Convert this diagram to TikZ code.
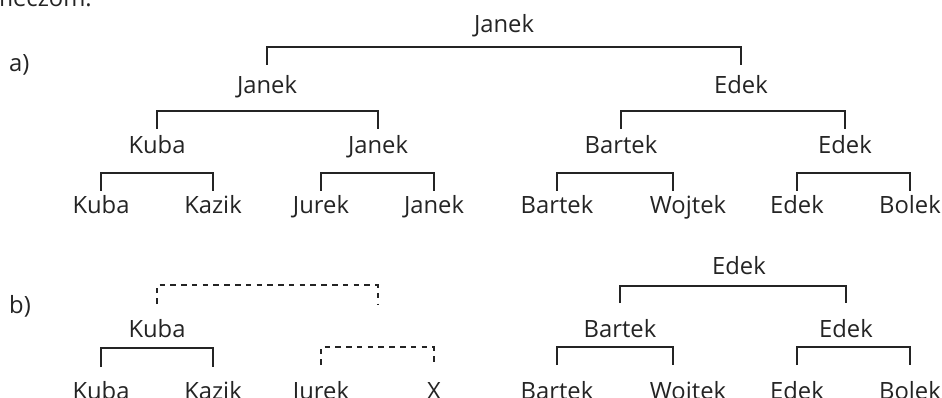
\documentclass[tikz,border=0pt]{standalone}
\usepackage{fontspec}
\setmainfont{Open Sans}
\usetikzlibrary{positioning}
\definecolor{ink}{gray}{0.14}
\tikzset{%
  player/.style={anchor=base, inner sep=0pt, text=ink,
    font=\fontsize{20.3}{24}\selectfont},% name of a player
  part/.style={player, anchor=base west},% part label a) / b)
  game/.style={draw=ink, line width=0.9pt},% match already played
  open/.style={game, dash pattern=on 4.7pt off 4.5pt}% match still to play
}
% bracket over two players #2 and #3: top line at #4, feet at #5
\newcommand*{\bracket}[5][game]{%
  \draw[#1] (#2 |- 0,#5) -- (#2 |- 0,#4) -| (#3 |- 0,#5);}

\begin{document}
\begin{tikzpicture}[x=0.03cm, y=-0.03cm]
  \useasboundingbox (0,0) rectangle (942,398);
  \node[part, anchor=base east] (intro) at (92,7) {meczom.};
  % a) the whole tournament
  \node[part] (pa) at (9,72) {a)};
  \foreach \x/\who in {101/Kuba, 213/Kazik, 321/Jurek, 434/Janek,
      557/Bartek, 688/Wojtek, 797/Edek, 910/Bolek}
    \node[player] (a\who) at (\x,214) {\who};
  \coordinate (aWojtekF) at (673,214);
  \node[player] (aKubaII) at (157,154) {Kuba};
  \node[player] (aJanekII) at (378,154) {Janek};
  \node[player] (aBartekII) at (621,154) {Bartek};
  \node[player] (aEdekII) at (845,154) {Edek};
  \node[player] (aJanekIII) at (267,94) {Janek};
  \node[player] (aEdekIII) at (741,94) {Edek};
  \node[player] (aJanekIV) at (504,33) {Janek};
  \bracket{aKuba}{aKazik}{173}{191}
  \bracket{aJurek}{aJanek}{173}{191}
  \bracket{aBartek}{aWojtekF}{173}{191}
  \bracket{aEdek}{aBolek}{173}{191}
  \bracket{aKubaII}{aJanekII}{111}{129}
  \bracket{aBartekII}{aEdekII}{111}{129}
  \bracket{aJanekIII}{aEdekIII}{47}{65}
  % b) the same with one result missing
  \node[part] (pb) at (9,313) {b)};
  \foreach \x/\who in {101/Kuba, 213/Kazik, 321/Jurek, 434/X,
      557/Bartek, 688/Wojtek, 797/Edek, 910/Bolek}
    \node[player] (b\who) at (\x,399) {\who};
  \coordinate (bWojtekF) at (673,399);
  \node[player] (bKubaII) at (157,337) {Kuba};
  \coordinate (bSlot) at (378,337);
  \node[player] (bBartekII) at (620,337) {Bartek};
  \node[player] (bEdekII) at (846,337) {Edek};
  \node[player] (bEdekIII) at (739,275) {Edek};
  \bracket{bKuba}{bKazik}{348}{367}
  \bracket[open]{bJurek}{bX}{347}{365}
  \bracket{bBartek}{bWojtekF}{347}{365}
  \bracket{bEdek}{bBolek}{347}{365}
  \bracket[open]{bKubaII}{bSlot}{285}{304}
  \bracket{bBartekII}{bEdekII}{286}{303}
\end{tikzpicture}
\end{document}
